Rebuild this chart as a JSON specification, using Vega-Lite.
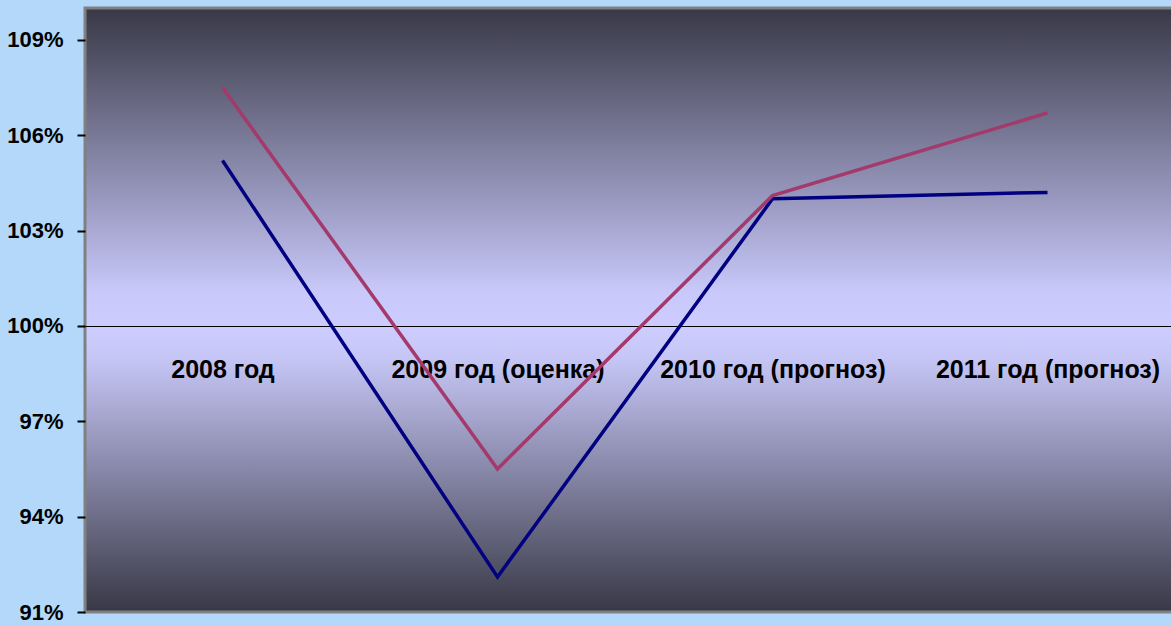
{
  "$schema": "https://vega.github.io/schema/vega-lite/v6.json",
  "autosize": "none",
  "width": 1100,
  "height": 604,
  "padding": {"left": 85, "top": 8, "right": 0, "bottom": 14},
  "background": "#b4d8fa",
  "view": {
    "fill": {
      "gradient": "linear",
      "x1": 0, "y1": 0, "x2": 0, "y2": 1,
      "stops": [
        {"offset": 0, "color": "#383846"},
        {"offset": 0.47, "color": "#c8c8fa"},
        {"offset": 0.53, "color": "#ccccfe"},
        {"offset": 0.58, "color": "#c6c6f6"},
        {"offset": 1, "color": "#383846"}
      ]
    },
    "stroke": "#808080",
    "strokeWidth": 3
  },
  "data": {
    "values": [
      {"year": "2008 год", "series": "Ряд 1", "value": 105.2},
      {"year": "2009 год (оценка)", "series": "Ряд 1", "value": 92.1},
      {"year": "2010 год (прогноз)", "series": "Ряд 1", "value": 104.0},
      {"year": "2011 год (прогноз)", "series": "Ряд 1", "value": 104.2},
      {"year": "2008 год", "series": "Ряд 2", "value": 107.5},
      {"year": "2009 год (оценка)", "series": "Ряд 2", "value": 95.5},
      {"year": "2010 год (прогноз)", "series": "Ряд 2", "value": 104.1},
      {"year": "2011 год (прогноз)", "series": "Ряд 2", "value": 106.7}
    ]
  },
  "mark": {"type": "line", "strokeWidth": 3.5, "clip": true},
  "encoding": {
    "x": {
      "field": "year",
      "type": "nominal",
      "sort": null,
      "scale": {"padding": 0.5},
      "axis": {
        "orient": "bottom",
        "offset": -286,
        "title": null,
        "ticks": false,
        "grid": false,
        "domain": true,
        "domainColor": "#000000",
        "domainWidth": 1,
        "labelAngle": 0,
        "labelFont": "Liberation Sans",
        "labelFontWeight": "bold",
        "labelFontSize": 25,
        "labelColor": "#000000",
        "labelPadding": 31,
        "labelLimit": 0,
        "labelOverlap": false
      }
    },
    "y": {
      "field": "value",
      "type": "quantitative",
      "scale": {"domain": [91, 110], "nice": false, "zero": false},
      "axis": {
        "title": null,
        "values": [91, 94, 97, 100, 103, 106, 109],
        "labelExpr": "datum.value + '%'",
        "grid": false,
        "domain": false,
        "ticks": true,
        "tickColor": "#000000",
        "tickSize": 8,
        "tickWidth": 2,
        "labelPadding": 14,
        "labelFont": "Liberation Sans",
        "labelFontWeight": "bold",
        "labelFontSize": 22,
        "labelColor": "#000000"
      }
    },
    "color": {
      "field": "series",
      "type": "nominal",
      "scale": {"range": ["#000080", "#a33a6b"]},
      "legend": null
    }
  }
}
